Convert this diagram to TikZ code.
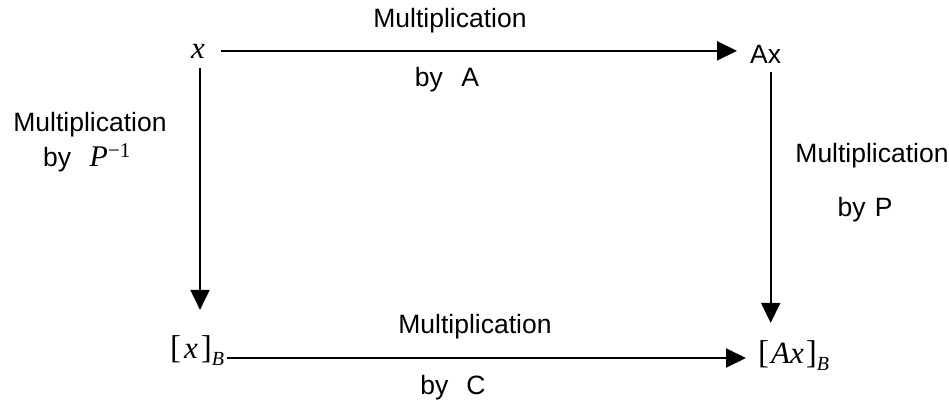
\documentclass[tikz,border=0pt]{standalone}
\usepackage{fontspec}
\setmainfont{Liberation Sans}
\newfontfamily\srf{Liberation Serif}
\usetikzlibrary{arrows.meta}
\newcommand\mvar[1]{{\srf\itshape #1}}
\newcommand\subB{\raisebox{-7pt}{\fontsize{20}{20}\selectfont\srf\itshape B}}
\newcommand\lbr{{\srf\fontsize{33}{34}\selectfont[}}
\newcommand\rbr{{\srf\fontsize{33}{34}\selectfont]}}
\begin{document}
\begin{tikzpicture}[x=1pt,y=-1pt,
  lbl/.style={inner sep=0pt,anchor=base,font=\fontsize{26.5}{30}\selectfont},
  obj/.style={inner sep=0pt,font=\fontsize{31}{34}\selectfont},
  arr/.style={line width=2pt,-{Triangle[length=20pt,width=19pt]}}]
\useasboundingbox (0,0) rectangle (949,402);
% objects
\node[obj,anchor=base] (x) at (198,58) {\mvar{x}};
\node[obj,anchor=base west,font=\fontsize{26.5}{30}\selectfont] (Ax) at (750,63) {Ax};
\node[obj,anchor=base west] (xB) at (170,358) {\lbr\hspace{3pt}\mvar{x}\hspace{3pt}\rbr\subB};
\node[obj,anchor=base west] (AxB) at (758,363) {\lbr\hspace{2pt}\mvar{Ax}\hspace{2pt}\rbr\subB};
% labels
\node[lbl] (t1) at (450,27) {Multiplication};
\node[lbl] (t2) at (447,86) {by\hspace{0.7em}A};
\node[lbl] (b1) at (475,333) {Multiplication};
\node[lbl] (b2) at (453,394) {by\hspace{0.68em}C};
\node[lbl] (l1) at (90,131) {Multiplication};
\node[lbl,anchor=base west] (l2) at (43,166) {by\hspace{0.7em}{\fontsize{30}{34}\selectfont\mvar{P}}\raisebox{9pt}{\fontsize{21}{21}\selectfont\srf{\char"2212}1}};
\node[lbl] (r1) at (872,162) {Multiplication};
\node[lbl] (r2) at (865,216) {by\hspace{0.35em}P};
% connectors
\draw[arr,shorten <=16pt,shorten >=13pt] (x.east) -- (x.east -| Ax.west);
\draw[arr,shorten <=10pt,shorten >=25pt] ([xshift=2pt]x.south) -- ([xshift=2pt]x.south |- xB.north);
\draw[arr,shorten <=3pt,shorten >=12pt] (xB.base east) -- (xB.base east -| AxB.base west);
\draw[arr,shorten <=9pt,shorten >=17pt] ([xshift=5pt]Ax.south) -- ([xshift=5pt]Ax.south |- AxB.north);
\end{tikzpicture}
\end{document}
